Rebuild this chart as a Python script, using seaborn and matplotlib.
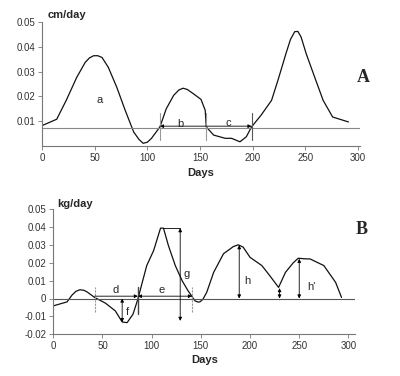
import numpy as np
import pandas as pd
import seaborn as sns
import matplotlib
matplotlib.use("Agg")
import matplotlib.pyplot as plt

sns.set_style("ticks")
plt.rcParams['font.family'] = ['Liberation Sans', 'DejaVu Sans']

# panel A - growth rate, cm/day
days_a = [1, 14, 23, 33, 41, 45, 49, 53, 57, 63, 71, 79, 87, 92, 96, 100, 104,
          112, 118, 125, 130, 134, 138, 144, 151, 155, 156, 163, 174, 180,
          188, 194, 199, 208, 218, 224, 232, 236, 240, 243, 246, 251, 259,
          267, 276, 291]
rate_a = [0.0084, 0.0108, 0.0184, 0.0277, 0.0337, 0.0355, 0.0364, 0.0364,
          0.0357, 0.0317, 0.0237, 0.0144, 0.0057, 0.0027, 0.0011, 0.0015,
          0.0031, 0.0077, 0.0150, 0.0204, 0.0226, 0.0233, 0.0228, 0.0210,
          0.0188, 0.0144, 0.0077, 0.0044, 0.0031, 0.0031, 0.0017, 0.0037,
          0.0077, 0.0124, 0.0184, 0.0264, 0.0377, 0.0430, 0.0461, 0.0462,
          0.0440, 0.0371, 0.0277, 0.0184, 0.0117, 0.0097]
ref_a = 0.0071

# panel B - weight gain, kg/day
days_b = [0, 14, 19, 23, 27, 31, 34, 42, 53, 63, 70, 75, 81, 86, 90, 95, 102,
          109, 112, 117, 124, 131, 137, 144, 147, 149, 152, 156, 163, 173,
          183, 188, 193, 200, 212, 220, 229, 236, 244, 249, 255, 261, 275,
          287, 293]
rate_b = [-0.0041, -0.0019, 0.0019, 0.0040, 0.0049, 0.0046, 0.0038, 0.0006,
          -0.0026, -0.0069, -0.0131, -0.0135, -0.0088, -0.0003, 0.0081,
          0.0184, 0.0268, 0.0393, 0.0393, 0.0296, 0.0184, 0.0099, 0.0043,
          -0.0013, -0.0020, -0.0019, -0.0005, 0.0035, 0.0146, 0.0250, 0.0290,
          0.0300, 0.0287, 0.0230, 0.0184, 0.0128, 0.0062, 0.0146, 0.0200,
          0.0225, 0.0222, 0.0221, 0.0184, 0.0090, 0.0006]

df_a = pd.DataFrame({'day': days_a, 'rate': rate_a})
df_b = pd.DataFrame({'day': days_b, 'rate': rate_b})

W, H = 400, 376
fig = plt.figure(figsize=(W / 100, H / 100), dpi=100)
axA = fig.add_axes([42 / W, 1 - 146 / H, 318 / W, 124 / H])
axB = fig.add_axes([53.3 / W, 1 - 334.3 / H, 302 / W, 125.3 / H])

def style_axis(ax):
    sns.despine(ax=ax)
    for s in ['left', 'bottom']:
        ax.spines[s].set_color('#777777')
        ax.spines[s].set_linewidth(0.8)
    ax.tick_params(labelsize=7, length=3, width=0.6, color='#777777',
                   colors='#333333', pad=2)

arrow = dict(arrowstyle='-|>', color='black', lw=0.6,
             mutation_scale=5, shrinkA=0, shrinkB=0)
arrow2 = dict(arrowstyle='<|-|>', color='black', lw=0.6,
              mutation_scale=5, shrinkA=0, shrinkB=0)

# ---- A
sns.lineplot(data=df_a, x='day', y='rate', ax=axA, color='#111111', lw=0.9)
axA.axhline(ref_a, color='#888888', lw=0.8)
axA.set_xlim(0, 302)
axA.set_ylim(0, 0.05)
axA.set_xticks([0, 50, 100, 150, 200, 250, 300])
axA.set_yticks([0.01, 0.02, 0.03, 0.04, 0.05])
axA.set_yticklabels(['0.01', '0.02', '0.03', '0.04', '0.05'])
axA.set_xlabel('Days', fontsize=8, fontweight='bold', labelpad=4)
axA.set_ylabel('')
style_axis(axA)
for xv, c in [(112, '#999999'), (156, '#999999'), (199, '#555555')]:
    axA.plot([xv, xv], [0.0024, 0.0132], color=c, lw=0.8)
axA.annotate('', xy=(112, 0.0080), xytext=(156, 0.0080), arrowprops=arrow)
axA.annotate('', xy=(199, 0.0080), xytext=(156, 0.0080), arrowprops=arrow)
axA.text(55, 0.0184, 'a', fontsize=8, ha='center', va='center')
axA.text(131, 0.0090, 'b', fontsize=8, ha='center', va='center')
axA.text(177, 0.0093, 'c', fontsize=8, ha='center', va='center')
fig.text(48 / W, 1 - 15 / H, 'cm/day', fontsize=8, fontweight='bold',
         va='center')
fig.text(363 / W, 1 - 78 / H, 'A', fontsize=13, fontweight='bold',
         family=['Liberation Serif'], va='center', ha='center')

# ---- B
sns.lineplot(data=df_b, x='day', y='rate', ax=axB, color='#111111', lw=0.9)
axB.axhline(0, color='#555555', lw=0.8)
axB.set_xlim(0, 307)
axB.set_ylim(-0.02, 0.05)
axB.set_xticks([0, 50, 100, 150, 200, 250, 300])
yt = [-0.02, -0.01, 0, 0.01, 0.02, 0.03, 0.04, 0.05]
axB.set_yticks(yt)
axB.set_yticklabels(['-0.02', '-0.01', '0', '0.01', '0.02', '0.03', '0.04', '0.05'])
axB.set_xlabel('Days', fontsize=8, fontweight='bold', labelpad=3)
axB.set_ylabel('')
style_axis(axB)
for xv in [42, 141]:
    axB.plot([xv, xv], [-0.0078, 0.0063], color='#999999', lw=0.8, ls=(0, (2, 1)))
axB.plot([86, 86], [-0.0085, 0.0063], color='#444444', lw=1.0)
axB.annotate('', xy=(86, 0.0013), xytext=(42, 0.0013), arrowprops=arrow)
axB.annotate('', xy=(86, 0.0013), xytext=(141, 0.0013), arrowprops=arrow2)
axB.annotate('', xy=(70, 0), xytext=(70, -0.0132), arrowprops=arrow2)
axB.plot([112, 129], [0.0393, 0.0393], color='black', lw=0.6)
axB.annotate('', xy=(129, 0.0393), xytext=(129, -0.0125), arrowprops=arrow2)
axB.annotate('', xy=(189, 0.0298), xytext=(189, 0), arrowprops=arrow2)
axB.annotate('', xy=(230, 0.0058), xytext=(230, 0), arrowprops=arrow2)
axB.annotate('', xy=(250, 0.0222), xytext=(250, 0), arrowprops=arrow2)
axB.text(63, 0.0046, 'd', fontsize=8, ha='center', va='center')
axB.text(110, 0.0049, 'e', fontsize=8, ha='center', va='center')
axB.text(75, -0.0074, 'f', fontsize=8, ha='center', va='center')
axB.text(136, 0.0137, 'g', fontsize=8, ha='center', va='center')
axB.text(197, 0.0096, 'h', fontsize=8, ha='center', va='center')
axB.text(262, 0.0063, "h'", fontsize=8, ha='center', va='center')
fig.text(57 / W, 1 - 204 / H, 'kg/day', fontsize=8, fontweight='bold',
         va='center')
fig.text(362 / W, 1 - 230 / H, 'B', fontsize=13, fontweight='bold',
         family=['Liberation Serif'], va='center', ha='center')

fig.savefig('out.png', dpi=100)
